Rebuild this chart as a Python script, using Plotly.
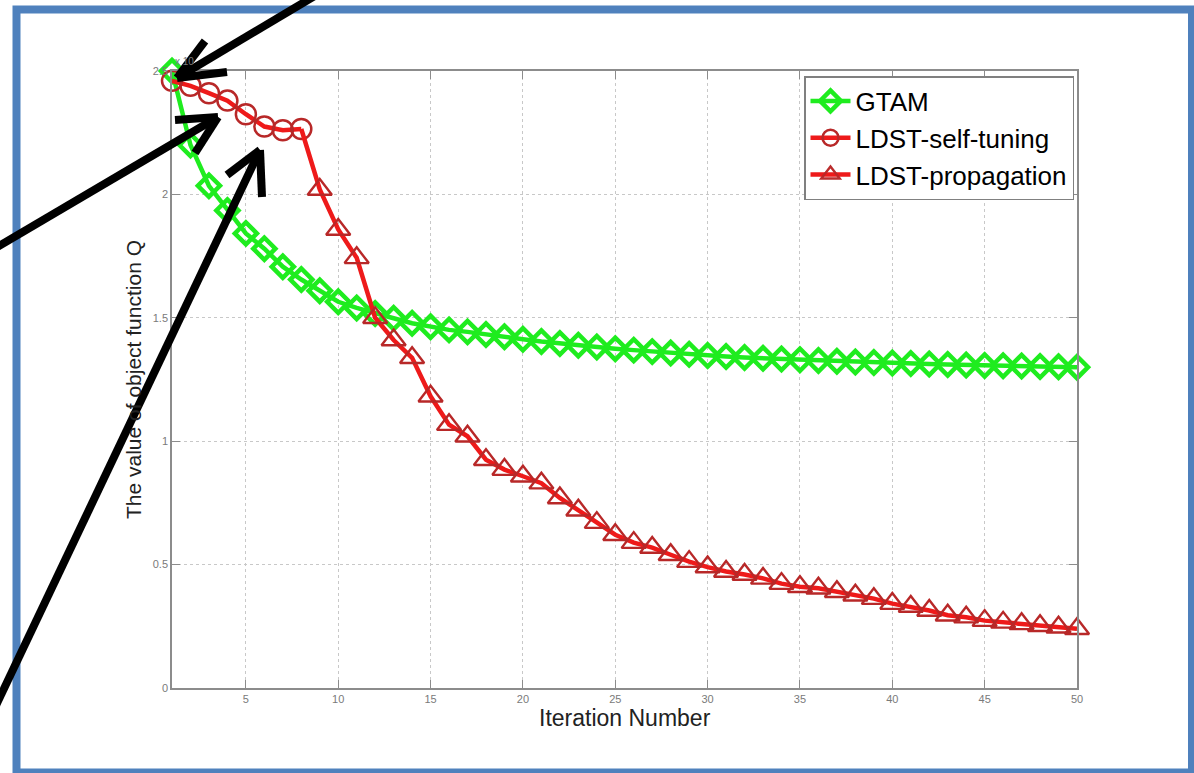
import plotly.graph_objects as go

# ---- data ----
iterations = list(range(1, 51))
gtam = [2.50, 2.20, 2.035, 1.935, 1.842, 1.78, 1.707, 1.655, 1.61, 1.565,
        1.54, 1.517, 1.498, 1.478, 1.464, 1.451, 1.443, 1.432, 1.423, 1.413,
        1.404, 1.396, 1.389, 1.382, 1.375, 1.369, 1.363, 1.357, 1.352, 1.347,
        1.343, 1.339, 1.336, 1.333, 1.330, 1.327, 1.324, 1.321, 1.319, 1.317,
        1.315, 1.313, 1.311, 1.309, 1.307, 1.306, 1.305, 1.303, 1.302, 1.300]
self_tuning_x = list(range(1, 9))
self_tuning = [2.46, 2.44, 2.41, 2.38, 2.325, 2.275, 2.26, 2.265]
propagation_x = list(range(9, 51))
propagation = [2.02, 1.858, 1.743, 1.50, 1.41, 1.338, 1.182, 1.067, 1.02, 0.925,
               0.885, 0.858, 0.83, 0.77, 0.72, 0.67, 0.621, 0.589, 0.569, 0.54,
               0.512, 0.49, 0.472, 0.46, 0.444, 0.423, 0.41, 0.404, 0.39, 0.376,
               0.362, 0.342, 0.33, 0.314, 0.295, 0.287, 0.273, 0.266, 0.26, 0.252,
               0.246, 0.24]
x_ticks = [5, 10, 15, 20, 25, 30, 35, 40, 45, 50]
y_ticks = [0, 0.5, 1, 1.5, 2, 2.5]
y_tick_labels = ["0", "0.5", "1", "1.5", "2", "2.5"]

# ---- layout geometry (pixels) ----
W, H = 1194, 773
L, R, T, B = 172, 117, 71, 85
PW, PH = W - L - R, H - T - B


def px(X):
    return (X - L) / PW


def py(Y):
    return (H - B - Y) / PH


GREEN = "#1fec1f"
RED = "#ee1a1a"
DARKRED = "#b82828"

fig = go.Figure()
fig.add_trace(go.Scatter(
    x=iterations, y=gtam, name="GTAM", mode="lines+markers",
    line=dict(color=GREEN, width=4.5),
    marker=dict(symbol="diamond-open", size=17, color=GREEN, line=dict(width=4.5)),
    cliponaxis=False))
fig.add_trace(go.Scatter(
    x=self_tuning_x, y=self_tuning, name="LDST-self-tuning", mode="lines+markers",
    line=dict(color=RED, width=4.5),
    marker=dict(symbol="circle-open", size=20, color=DARKRED, line=dict(width=2.5)),
    cliponaxis=False))
# propagation continues from the last self-tuning point
prop_x = [self_tuning_x[-1]] + propagation_x
prop_y = [self_tuning[-1]] + propagation
fig.add_trace(go.Scatter(
    x=prop_x, y=prop_y, name="LDST-propagation", mode="lines+markers",
    line=dict(color=RED, width=4.5),
    marker=dict(symbol="triangle-up-open", size=21, color=DARKRED, line=dict(width=2.4),
                opacity=[0] + [1] * len(propagation_x)),
    cliponaxis=False))

axis_common = dict(
    showline=True, linecolor="#8c8c8c", linewidth=1.5, mirror="ticks",
    ticks="inside", ticklen=8, tickcolor="#8c8c8c", tickwidth=1,
    showgrid=True, gridcolor="#c8c8c8", griddash="dot", gridwidth=1,
    zeroline=False,
    tickfont=dict(family="Liberation Sans Narrow, Arial Narrow, Liberation Sans, Arial",
                  size=11, color="#7a7a7a"),
)
fig.update_xaxes(range=[1, 50], tickvals=x_ticks, **axis_common)
fig.update_yaxes(range=[0, 2.5], tickvals=y_ticks, ticktext=y_tick_labels, **axis_common)

shapes = []
# blue frame
shapes.append(dict(type="rect", xref="paper", yref="paper",
                   x0=px(16.5), x1=px(1192), y0=py(9.5), y1=py(772.5),
                   line=dict(color="#4f81bd", width=8), fillcolor="rgba(0,0,0,0)",
                   layer="above"))

arrows = [
    # tail, tip, arm1, arm2
    ((318, -6), (177, 78), (227, 72), (205, 41)),
    ((-6, 249), (218, 117), (175, 120), (195, 153)),
    ((-10, 718), (260, 150), (262, 197), (227, 175)),
]
for tail, tip, a1, a2 in arrows:
    for start in (tail, a1, a2):
        shapes.append(dict(type="line", xref="paper", yref="paper",
                           x0=px(start[0]), y0=py(start[1]),
                           x1=px(tip[0]), y1=py(tip[1]),
                           line=dict(color="black", width=8), layer="above"))

annotations = [
    dict(text="Iteration Number", xref="paper", yref="paper",
         x=px(625), y=py(718), showarrow=False, xanchor="center", yanchor="middle",
         font=dict(family="Liberation Sans Narrow, Arial Narrow, Liberation Sans, Arial",
                   size=23, color="#222222")),
    dict(text="The value of object function Q", xref="paper", yref="paper",
         x=px(133), y=py(380), showarrow=False, textangle=-90,
         xanchor="center", yanchor="middle",
         font=dict(family="Liberation Sans, Arial", size=21, color="#222222")),
    dict(text="x 10", xref="paper", yref="paper", x=px(173), y=py(61),
         showarrow=False, xanchor="left", yanchor="middle",
         font=dict(family="Liberation Sans Narrow, Liberation Sans, Arial",
                   size=10, color="#7a7a7a")),
]

fig.update_layout(
    width=W, height=H,
    margin=dict(l=L, r=R, t=T, b=B, pad=0),
    paper_bgcolor="white", plot_bgcolor="white",
    showlegend=True,
    legend=dict(x=px(1074), y=py(76), xanchor="right", yanchor="top",
                bgcolor="white", bordercolor="#808080", borderwidth=1.5,
                font=dict(family="Liberation Sans, Arial", size=26, color="black"),
                itemwidth=40, tracegroupgap=0),
    shapes=shapes,
    annotations=annotations,
)

fig.write_html("out.html",
               config={"displayModeBar": False},
               post_script="document.body.style.margin='0';"
                           "document.body.style.padding='0';"
                           "document.body.style.overflow='hidden';")
